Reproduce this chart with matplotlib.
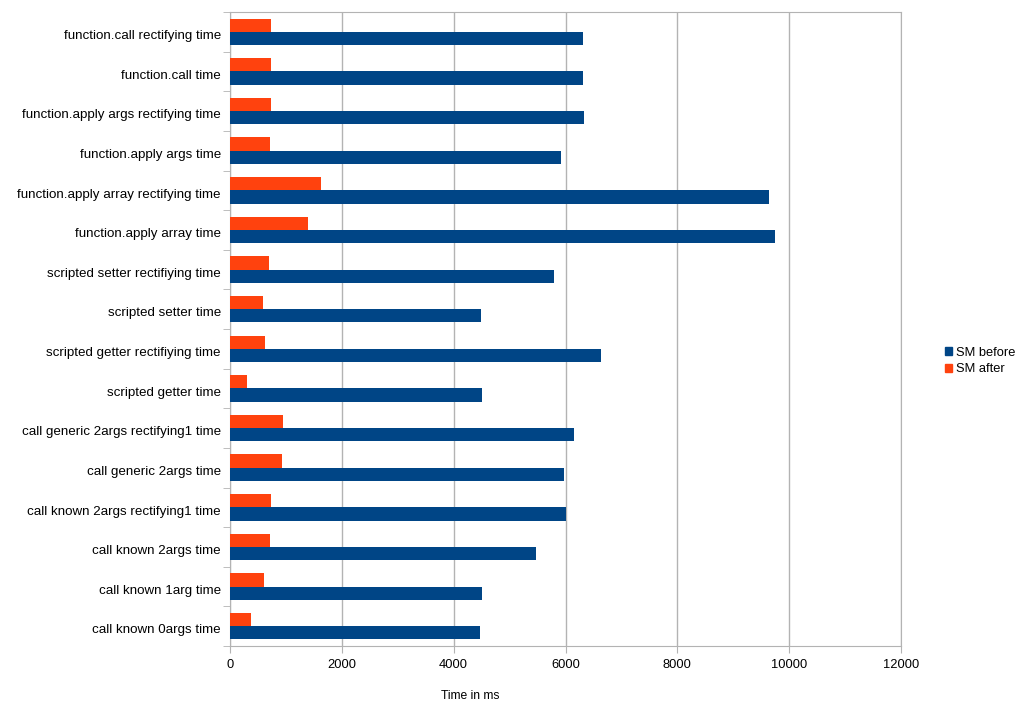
import numpy as np
from matplotlib import pyplot as plt
from matplotlib.patches import Patch

plt.rcParams['font.family'] = ['Liberation Sans', 'DejaVu Sans']

labels = [
    'function.call rectifying time',
    'function.call time',
    'function.apply args rectifying time',
    'function.apply args time',
    'function.apply array rectifying time',
    'function.apply array time',
    'scripted setter rectifiying time',
    'scripted setter time',
    'scripted getter rectifiying time',
    'scripted getter time',
    'call generic 2args rectifying1 time',
    'call generic 2args time',
    'call known 2args rectifying1 time',
    'call known 2args time',
    'call known 1arg time',
    'call known 0args time',
]
sm_before = [6308, 6319, 6331, 5914, 9637, 9738, 5794, 4482,
             6641, 4505, 6147, 5968, 6014, 5477, 4500, 4470]
sm_after = [741, 741, 741, 716, 1629, 1403, 693, 598,
            634, 311, 956, 931, 741, 716, 616, 371]

blue = '#004586'
orange = '#ff420e'
grid_c = '#b3b3b3'

fig = plt.figure(figsize=(10.28, 7.22), dpi=100)
fig.patch.set_facecolor('white')
ax = fig.add_axes([230/1028, 76/722, 671/1028, 634/722])

y = np.arange(len(labels))
h = 1/3
ax.barh(y - h/2, sm_after, height=h, color=orange, zorder=3)
ax.barh(y + h/2, sm_before, height=h, color=blue, zorder=3)

ax.set_ylim(len(labels) - 0.5, -0.5)
ax.set_xlim(0, 12000)
ax.set_xticks(np.arange(0, 12001, 2000))
ax.set_yticks(y + 0.07)
ax.set_yticklabels(labels, fontsize=9.6)
ax.set_yticks(np.arange(-0.5, len(labels), 1), minor=True)
ax.tick_params(axis='y', which='major', length=0, pad=6.5)
ax.tick_params(axis='y', which='minor', length=5, color=grid_c)
ax.tick_params(axis='x', length=5, color=grid_c, labelsize=9.3, pad=4)
ax.grid(axis='x', color=grid_c, linewidth=1, zorder=0)
for s in ax.spines.values():
    s.set_color(grid_c)

ax.set_xlabel('Time in ms', fontsize=8.7)
ax.xaxis.set_label_coords(0.358, -0.069)

handles = [Patch(color=blue, label='SM before'), Patch(color=orange, label='SM after')]
fig.legend(handles=handles, loc='center left', bbox_to_anchor=(0.908, 0.5),
           frameon=False, fontsize=9.3, handlelength=0.55, handleheight=0.55,
           handletextpad=0.3, labelspacing=0.35)

fig.savefig('out.png', dpi=100)
